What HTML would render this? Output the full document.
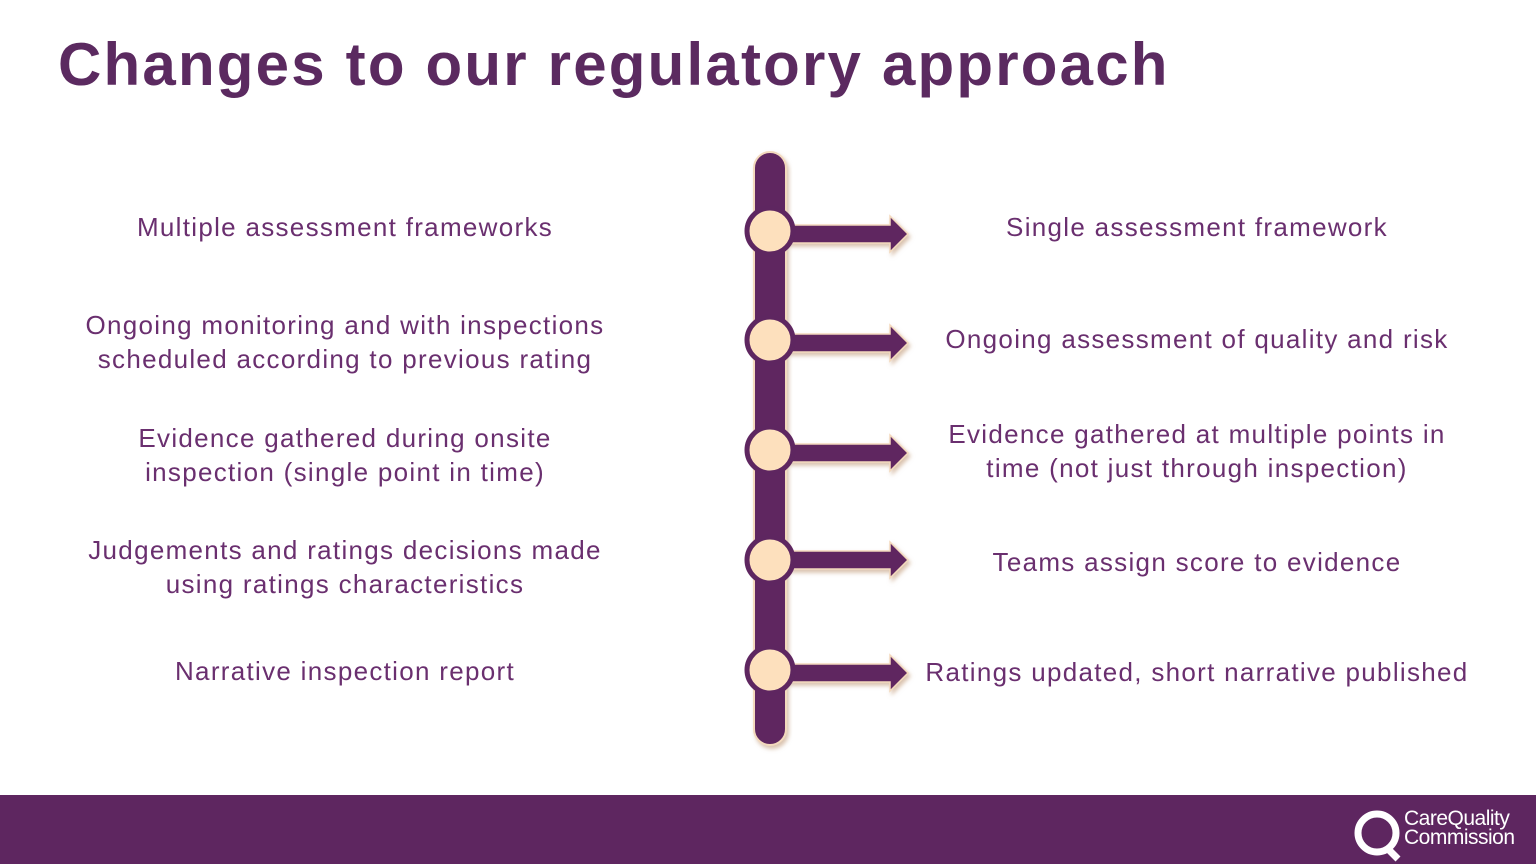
<!DOCTYPE html>
<html><head><style>
body{margin:0;width:1536px;height:864px;background:#fff;position:relative;overflow:hidden;font-family:"Liberation Sans",Arial,sans-serif}
h1{position:absolute;left:58px;top:30px;margin:0;font-size:60px;font-weight:bold;color:#5b2a60;letter-spacing:2.2px}
.t{position:absolute;color:#6a2f6f;font-size:26px;line-height:34px;text-align:center;width:700px;letter-spacing:1.3px}
.l{left:-5px}.r{left:847px}
.foot{position:absolute;left:0;top:795px;width:1536px;height:69px;background:#5e2660}
</style></head><body>
<h1>Changes to our regulatory approach</h1>
<svg width="1536" height="864" style="position:absolute;left:0;top:0">
<defs><filter id="s" x="-20%" y="-20%" width="140%" height="140%"><feDropShadow dx="2" dy="3" stdDeviation="2" flood-color="#c9a88a" flood-opacity="0.7"/></filter></defs>
<rect x="754" y="152" width="32" height="593" rx="16" fill="#5e2660" stroke="#f3d9bd" stroke-width="2" filter="url(#s)"/>
<g fill="#5e2660" stroke="#f3d9bd" stroke-width="1.5" filter="url(#s)">
<path d="M786 225 H890 V216 L908 234 L890 252 V243 H786 Z"/>
<path d="M786 334 H890 V325 L908 343 L890 361 V352 H786 Z"/>
<path d="M786 444 H890 V435 L908 453 L890 471 V462 H786 Z"/>
<path d="M786 551 H890 V542 L908 560 L890 578 V569 H786 Z"/>
<path d="M786 664 H890 V655 L908 673 L890 691 V682 H786 Z"/>
</g>
<g fill="#fde0bd" stroke="#5e2660" stroke-width="5">
<circle cx="770" cy="231" r="23"/><circle cx="770" cy="340" r="23"/><circle cx="770" cy="450" r="23"/><circle cx="770" cy="560" r="23"/><circle cx="770" cy="670" r="23"/>
</g>
</svg>
<div class="t l" style="top:210px">Multiple assessment frameworks</div>
<div class="t l" style="top:308px">Ongoing monitoring and with inspections<br>scheduled according to previous rating</div>
<div class="t l" style="top:421px">Evidence gathered during onsite<br>inspection (single point in time)</div>
<div class="t l" style="top:533px">Judgements and ratings decisions made<br>using ratings characteristics</div>
<div class="t l" style="top:654px">Narrative inspection report</div>
<div class="t r" style="top:210px">Single assessment framework</div>
<div class="t r" style="top:322px">Ongoing assessment of quality and risk</div>
<div class="t r" style="top:417px">Evidence gathered at multiple points in<br>time (not just through inspection)</div>
<div class="t r" style="top:545px">Teams assign score to evidence</div>
<div class="t r" style="top:655px">Ratings updated, short narrative published</div>
<div class="foot">
<svg width="60" height="60" style="position:absolute;left:1350px;top:8px"><circle cx="27" cy="30" r="19" fill="none" stroke="#fff" stroke-width="7"/><path d="M36 44 L48 56" stroke="#fff" stroke-width="7"/></svg>
<div style="position:absolute;left:1404px;top:14px;color:#fff;font-size:21px;line-height:19px;letter-spacing:-0.5px">CareQuality<br>Commission</div>
</div>
</body></html>
